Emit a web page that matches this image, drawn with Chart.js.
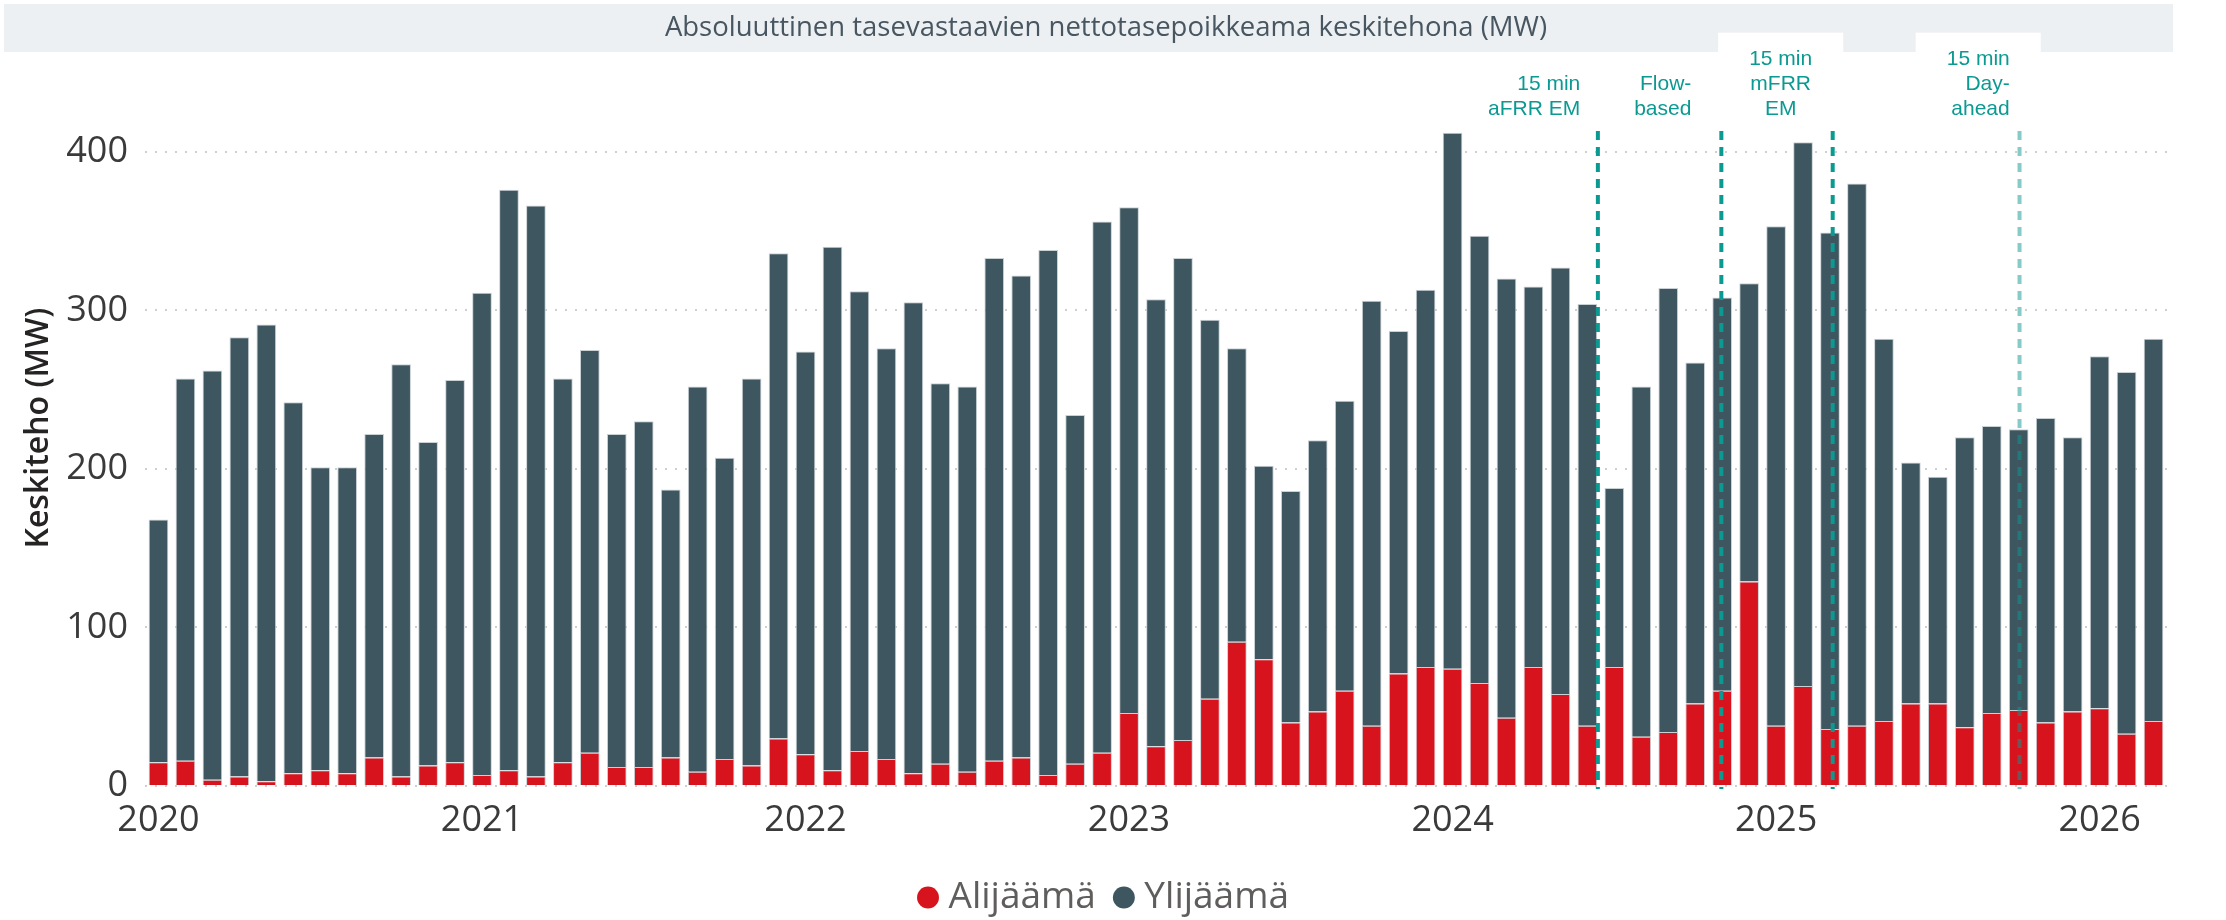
<!DOCTYPE html>
<html lang="fi">
<head>
<meta charset="utf-8">
<title>Absoluuttinen tasevastaavien nettotasepoikkeama keskitehona (MW)</title>
<script src="https://cdn.jsdelivr.net/npm/chart.js@4.4.1/dist/chart.umd.min.js"></script>
<style>
  html, body { margin: 0; padding: 0; background: #fff; }
  #wrap { width: 2226px; height: 920px; }
</style>
</head>
<body>
<div id="wrap"><canvas id="balanceChart" width="2226" height="920"></canvas></div>
<script>
// Monthly average of absolute net imbalance, MW

const months = [
  '2020-01','2020-02','2020-03','2020-04','2020-05','2020-06','2020-07','2020-08','2020-09','2020-10','2020-11','2020-12',
  '2021-01','2021-02','2021-03','2021-04','2021-05','2021-06','2021-07','2021-08','2021-09','2021-10','2021-11','2021-12',
  '2022-01','2022-02','2022-03','2022-04','2022-05','2022-06','2022-07','2022-08','2022-09','2022-10','2022-11','2022-12',
  '2023-01','2023-02','2023-03','2023-04','2023-05','2023-06','2023-07','2023-08','2023-09','2023-10','2023-11','2023-12',
  '2024-01','2024-02','2024-03','2024-04','2024-05','2024-06','2024-07','2024-08','2024-09','2024-10','2024-11','2024-12',
  '2025-01','2025-02','2025-03','2025-04','2025-05','2025-06','2025-07','2025-08','2025-09','2025-10','2025-11','2025-12',
  '2026-01','2026-02','2026-03'
];

// Alijäämä (deficit), MW
const alijaama = [
  15, 16, 4, 6, 3, 8, 10, 8, 18, 6, 13, 15,
  7, 10, 6, 15, 21, 12, 12, 18, 9, 17, 13, 30,
  20, 10, 22, 17, 8, 14, 9, 16, 18, 7, 14, 21,
  46, 25, 29, 55, 91, 80, 40, 47, 60, 38, 71, 75,
  74, 65, 43, 75, 58, 38, 75, 31, 34, 52, 60, 129,
  38, 63, 36, 38, 41, 52, 52, 37, 46, 48, 40, 47,
  49, 33, 41
];

// Ylijäämä (surplus), MW
const ylijaama = [
  153, 241, 258, 277, 288, 234, 191, 193, 204, 260, 204, 241,
  304, 366, 360, 242, 254, 210, 218, 169, 243, 190, 244, 306,
  254, 330, 290, 259, 297, 240, 243, 317, 304, 331, 220, 335,
  319, 282, 304, 239, 185, 122, 146, 171, 183, 268, 216, 238,
  338, 282, 277, 240, 269, 266, 113, 221, 280, 215, 248, 188,
  315, 343, 313, 342, 241, 152, 143, 183, 181, 177, 192, 173,
  222, 228, 241
];

const yTicks = [0, 100, 200, 300, 400];

// market changes, as month index (fraction = day within month)
const eventIndex = [53.39, 57.97, 62.10, 69.03];
const eventLabels = [
  ['15 min', 'aFRR EM'],
  ['Flow-', 'based'],
  ['15 min', 'mFRR', 'EM'],
  ['15 min', 'Day-', 'ahead']
];

const chartTitle = 'Absoluuttinen tasevastaavien nettotasepoikkeama keskitehona (MW)';
const yTitle = 'Keskiteho (MW)';

const FONT = '"Open Sans", "Noto Sans", sans-serif';
const TEAL = '#0b9a92';

// where each event label sits relative to its line
const labelPlacement = [
  { dx: -17.6, align: 'right' },
  { dx: -30,   align: 'right' },
  { dx: -52,   align: 'center' },
  { dx: -9.8,  align: 'right' }
];

const overlay = {
  id: 'overlay',
  beforeDraw(chart) {
    const ctx = chart.ctx;
    ctx.save();
    // grey title band
    ctx.fillStyle = '#edf0f3';
    ctx.fillRect(4, 4, 2169, 48);
    ctx.fillStyle = '#475660';
    ctx.font = '27.5px ' + FONT;
    ctx.textAlign = 'center';
    ctx.textBaseline = 'alphabetic';
    ctx.fillText(chartTitle, 1106, 36);

    // y axis title
    ctx.translate(48, 428);
    ctx.rotate(-Math.PI / 2);
    ctx.fillStyle = '#252423';
    ctx.font = '600 32px ' + FONT;
    ctx.fillText(yTitle, 0, 0);
    ctx.restore();
  },
  afterDraw(chart) {
    const { ctx, scales: { x, y } } = chart;
    ctx.save();

    // dashed event lines
    eventIndex.forEach((v, i) => {
      const px = x.getPixelForValue(v);
      ctx.strokeStyle = i === 3 ? 'rgba(11,154,146,0.5)' : TEAL;
      ctx.lineWidth = 4;
      ctx.setLineDash([9, 7]);
      ctx.beginPath();
      ctx.moveTo(px, y.getPixelForValue(413));
      ctx.lineTo(px, y.getPixelForValue(0) + 3);
      ctx.stroke();
    });
    ctx.setLineDash([]);

    // labels above the lines
    ctx.font = '21px "Liberation Sans", Arial, sans-serif';
    ctx.textBaseline = 'alphabetic';
    eventLabels.forEach((lines, i) => {
      const p = labelPlacement[i];
      const ax = x.getPixelForValue(eventIndex[i]) + p.dx;
      const n = lines.length;
      const w = Math.max(...lines.map(t => ctx.measureText(t).width));
      const left = p.align === 'right' ? ax - w : ax - w / 2;
      const firstBase = 115 - (n - 1) * 25;

      ctx.fillStyle = '#fff';
      ctx.fillRect(left - 31, firstBase - 32.3, w + 62, 125 - firstBase);

      ctx.fillStyle = TEAL;
      ctx.textAlign = p.align;
      lines.forEach((t, k) => ctx.fillText(t, ax, firstBase + k * 25));
    });
    ctx.restore();
  }
};

const ctx = document.getElementById('balanceChart').getContext('2d');

new Chart(ctx, {
  type: 'bar',
  data: {
    labels: months,
    datasets: [
      {
        label: 'Alijäämä',
        data: alijaama,
        backgroundColor: '#d7131e',
        borderColor: '#c9d1d5',
        borderWidth: 1,
        barPercentage: 0.73,
        categoryPercentage: 1
      },
      {
        label: 'Ylijäämä',
        data: ylijaama,
        backgroundColor: '#3e5660',
        borderColor: '#c9d1d5',
        borderWidth: 1,
        barPercentage: 0.73,
        categoryPercentage: 1
      }
    ]
  },
  options: {
    responsive: false,
    animation: false,
    devicePixelRatio: 1,
    layout: { padding: { left: 48, right: 59, top: 129.5, bottom: -6 } },
    scales: {
      x: {
        stacked: true,
        offset: true,
        grid: { display: false, drawTicks: false },
        border: { display: false },
        afterFit(scale) { scale.height = 67; },
        ticks: {
          autoSkip: false,
          maxRotation: 0,
          padding: 13,
          color: '#3a3a3a',
          font: { family: FONT, size: 36 },
          callback(value) {
            const m = this.getLabelForValue(value);
            return m.endsWith('-01') ? m.slice(0, 4) : '';
          }
        }
      },
      y: {
        stacked: true,
        min: 0,
        max: 414,
        afterFit(scale) { scale.width = 97; },
        afterBuildTicks(scale) { scale.ticks = yTicks.map(v => ({ value: v })); },
        grid: { color: '#cfcfcf', lineWidth: 2, drawTicks: false },
        border: { display: false, dash: [2, 8] },
        ticks: {
          padding: 17,
          color: '#3a3a3a',
          font: { family: FONT, size: 36 }
        }
      }
    },
    plugins: {
      title: { display: false },
      tooltip: { enabled: false },
      legend: {
        position: 'bottom',
        labels: {
          usePointStyle: true,
          pointStyle: 'circle',
          boxWidth: 4,
          boxHeight: 15.5,
          padding: 26,
          color: '#605e5c',
          font: { family: FONT, size: 37 },
          generateLabels(chart) {
            const items = Chart.defaults.plugins.legend.labels.generateLabels(chart);
            items.forEach(it => { it.strokeStyle = it.fillStyle; it.lineWidth = 0; });
            return items;
          }
        }
      }
    }
  },
  plugins: [overlay]
});
</script>
</body>
</html>
